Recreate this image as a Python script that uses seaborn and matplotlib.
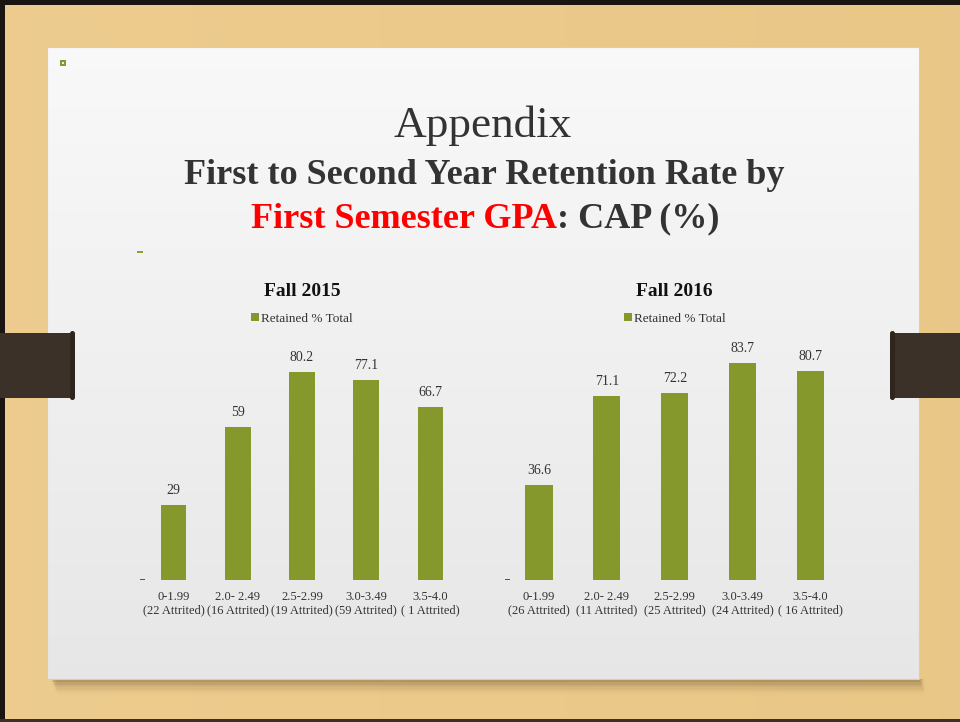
import numpy as np
import pandas as pd
import matplotlib
matplotlib.use("Agg")
import matplotlib.pyplot as plt
import matplotlib.patches as mpatches
import seaborn as sns

# data
gpa_bands = ["0-1.99", "2.0- 2.49", "2.5-2.99", "3.0-3.49", "3.5-4.0"]
attrited_2015 = ["(22 Attrited)", "(16 Attrited)", "(19 Attrited)", "(59 Attrited)", "( 1 Attrited)"]
attrited_2016 = ["(26 Attrited)", "(11 Attrited)", "(25 Attrited)", "(24 Attrited)", "( 16 Attrited)"]
retained_2015 = [29, 59, 80.2, 77.1, 66.7]
retained_2016 = [36.6, 71.1, 72.2, 83.7, 80.7]

BAR = "#84982B"
INK = "#333333"
WOOD = "#EBCA8C"
SERIF = ["Liberation Serif", "DejaVu Serif"]

sns.set_theme(style="white")
plt.rcParams["font.family"] = SERIF

W, H = 960, 722
fig = plt.figure(figsize=(W / 100, H / 100), dpi=100)
fig.patch.set_facecolor(WOOD)

# background: wood, slide, clips (pixel coords, y down)
bg = fig.add_axes([0, 0, 1, 1], zorder=-5)
bg.set_xlim(0, W)
bg.set_ylim(H, 0)
bg.axis("off")
wood = np.linspace(0, 1, 200).reshape(1, -1)
bg.imshow(np.dstack([0.93 - 0.02 * wood, 0.80 - 0.02 * wood, 0.56 - 0.03 * wood]),
          extent=[0, W, H, 0], aspect="auto", zorder=0)
# shadow under slide
for i, a in enumerate([0.14, 0.11, 0.08, 0.06, 0.04, 0.02]):
    bg.add_patch(mpatches.Rectangle((52 + i, 679), 868, 3 + 2.5 * i, color="#5a4020",
                                    alpha=a, lw=0, zorder=1))
grad = np.linspace(0.975, 0.905, 200).reshape(-1, 1)
bg.imshow(np.dstack([grad, grad, grad]), extent=[47, 919, 679, 47], aspect="auto", zorder=2)
bg.add_patch(mpatches.Rectangle((47, 47), 872, 632, fill=False, ec="#d9cdb5", lw=0.8, zorder=3))
# black frame edges
bg.add_patch(mpatches.Rectangle((0, 0), W, 5, color="#1a1510", lw=0, zorder=4))
bg.add_patch(mpatches.Rectangle((0, 0), 5, H, color="#1a1510", lw=0, zorder=4))
bg.add_patch(mpatches.Rectangle((0, 719), W, 3, color="#3a3024", lw=0, zorder=4))
# clips
clip = "#3C3128"
bg.add_patch(mpatches.Rectangle((0, 333), 74, 65, color=clip, lw=0, zorder=5))
bg.add_patch(mpatches.FancyBboxPatch((70, 331), 5, 69, boxstyle="round,pad=0,rounding_size=2.5",
                                     color="#2e251d", lw=0, zorder=6))
bg.add_patch(mpatches.Rectangle((893, 333), 67, 65, color=clip, lw=0, zorder=5))
bg.add_patch(mpatches.FancyBboxPatch((890, 331), 5, 69, boxstyle="round,pad=0,rounding_size=2.5",
                                     color="#2e251d", lw=0, zorder=6))
# little markers left over on the slide
bg.add_patch(mpatches.Rectangle((60, 60), 6, 6, color="#7f9a3a", lw=0, zorder=6))
bg.add_patch(mpatches.Rectangle((62, 62), 2, 2, color="#e8efd0", lw=0, zorder=7))
bg.add_patch(mpatches.Rectangle((137, 251), 6, 2, color="#8aa030", lw=0, zorder=6))
bg.add_patch(mpatches.Rectangle((140, 579), 5, 1.2, color="#555555", lw=0, zorder=6))
bg.add_patch(mpatches.Rectangle((505, 579), 5, 1.2, color="#555555", lw=0, zorder=6))

# headings
bg.text(483, 126, "Appendix", ha="center", va="center", fontsize=32.5, color=INK, zorder=8)
bg.text(484, 176, "First to Second Year Retention Rate by", ha="center", va="center",
        fontsize=26, fontweight="bold", color=INK, zorder=8)
bg.text(557, 219, "First Semester GPA", ha="right", va="center",
        fontsize=26, fontweight="bold", color="#FF0000", zorder=8)
bg.text(557, 219, ": CAP (%)", ha="left", va="center",
        fontsize=26, fontweight="bold", color=INK, zorder=8)


def panel(rect, title, values, attrited):
    df = pd.DataFrame({
        "band": [g + "\n" + a for g, a in zip(gpa_bands, attrited)],
        "retained": values,
    })
    ax = fig.add_axes(rect)
    ax.patch.set_alpha(0)
    sns.barplot(data=df, x="band", y="retained", color=BAR, saturation=1, width=0.4,
                linewidth=0, label="Retained % Total", ax=ax)
    ax.set_ylim(0, 100)
    ax.set_xlim(-0.5, len(values) - 0.5)
    ax.bar_label(ax.containers[0], labels=[f"{v:g}" for v in values], padding=6,
                 fontsize=10, color=INK)
    ax.set_xlabel("")
    ax.set_ylabel("")
    ax.set_yticks([])
    ax.tick_params(axis="x", length=0, pad=8, labelsize=9, labelcolor=INK)
    for lab in ax.get_xticklabels():
        lab.set_linespacing(1.15)
    sns.despine(ax=ax, left=True, bottom=True)
    ax.legend(loc="center", bbox_to_anchor=(0.5, 1.008), frameon=False, fontsize=9.5,
              handlelength=0.6, handleheight=0.6, handletextpad=0.2, labelcolor=INK)
    ax.text(0.5, 1.113, title, transform=ax.transAxes, ha="center", va="center",
            fontsize=14, fontweight="bold", color="#111111")
    return ax


bottom = (H - 580) / H
height = 259 / H
panel([141.5 / W, bottom, 321 / W, height], "Fall 2015", retained_2015, attrited_2015)
panel([505 / W, bottom, 339.5 / W, height], "Fall 2016", retained_2016, attrited_2016)

fig.savefig("out.png", dpi=100, facecolor=fig.get_facecolor())
